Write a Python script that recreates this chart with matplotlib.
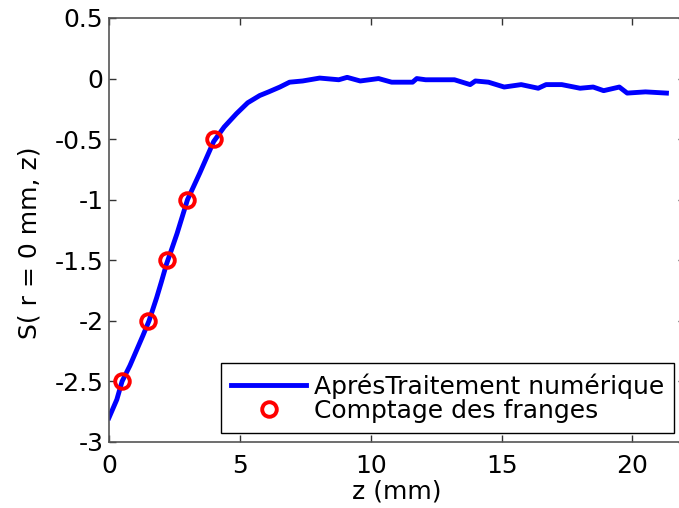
import numpy as np
import matplotlib
matplotlib.use('Agg')
import matplotlib.pyplot as plt

plt.rcParams['font.family'] = ['DejaVu Sans']

# courbe apres traitement numerique
z_curve = [0.0, 0.3, 0.5, 0.8, 1.06, 1.3, 1.53, 1.82, 2.0, 2.2, 2.33, 2.6, 3.0, 3.47,
           4.0, 4.4, 4.87, 5.3, 5.76, 6.1, 6.53, 6.9, 7.4, 8.05, 8.78, 9.1, 9.6,
           10.3, 10.8, 11.6, 11.76, 12.1, 13.2, 13.8, 14.0, 14.5, 15.1, 15.75,
           16.4, 16.7, 17.3, 18.0, 18.5, 18.9, 19.3, 19.5, 19.8, 20.5, 21.3]
s_curve = [-2.80, -2.65, -2.50, -2.37, -2.24, -2.12, -2.00, -1.81, -1.68, -1.53, -1.45,
           -1.28, -1.00, -0.78, -0.52, -0.40, -0.29, -0.20, -0.14, -0.11, -0.07, -0.03,
           -0.02, 0.004, -0.01, 0.01, -0.02, 0.0, -0.03, -0.03, 0.0, -0.01, -0.01,
           -0.05, -0.02, -0.03, -0.07, -0.05, -0.08, -0.05, -0.05, -0.08, -0.07,
           -0.10, -0.08, -0.07, -0.12, -0.11, -0.12]

# comptage des franges
z_fr = [0.5, 1.5, 2.2, 3.0, 4.0]
s_fr = [-2.5, -2.0, -1.5, -1.0, -0.5]

fig = plt.figure(figsize=(6.79, 5.08), dpi=100)
ax = fig.add_axes([0.1605, 0.130, 0.848, 0.8346])

ax.plot(z_curve, s_curve, c='#0000ff', lw=3.5, label=u'AprésTraitement numérique')
ax.plot(z_fr, s_fr, 'o', ls='none', mfc='none', mec='#ff0000', mew=2.8, ms=10.5,
        label='Comptage des franges')

ax.set_xlim(0, 22)
ax.set_ylim(-3, 0.5)
ax.set_xticks([0, 5, 10, 15, 20])
ax.set_yticks([-3, -2.5, -2, -1.5, -1, -0.5, 0, 0.5])
ax.set_yticklabels(['-3', '-2.5', '-2', '-1.5', '-1', '-0.5', '0', '0.5'])
ax.tick_params(direction='in', top=True, right=True, length=5, width=1,
               labelsize=18, colors='#333333', labelcolor='black')
ax.tick_params(axis='x', pad=9)
ax.tick_params(axis='y', pad=4)
for sp in ax.spines.values():
    sp.set_color('#555555')
    sp.set_linewidth(1.2)

ax.set_xlabel('z (mm)', fontsize=18, labelpad=1)
ax.set_ylabel('S( r = 0 mm, z)', fontsize=18)
ax.yaxis.set_label_coords(-0.118, 0.469)

leg = ax.legend(loc='lower right', bbox_to_anchor=(0.981, 0.021), fontsize=18,
                fancybox=False, edgecolor='black', framealpha=1,
                handlelength=3.0, borderpad=0.4, labelspacing=0.02,
                handletextpad=0.3, borderaxespad=0)
leg.get_frame().set_linewidth(1.0)

fig.savefig('out.png', dpi=100)
